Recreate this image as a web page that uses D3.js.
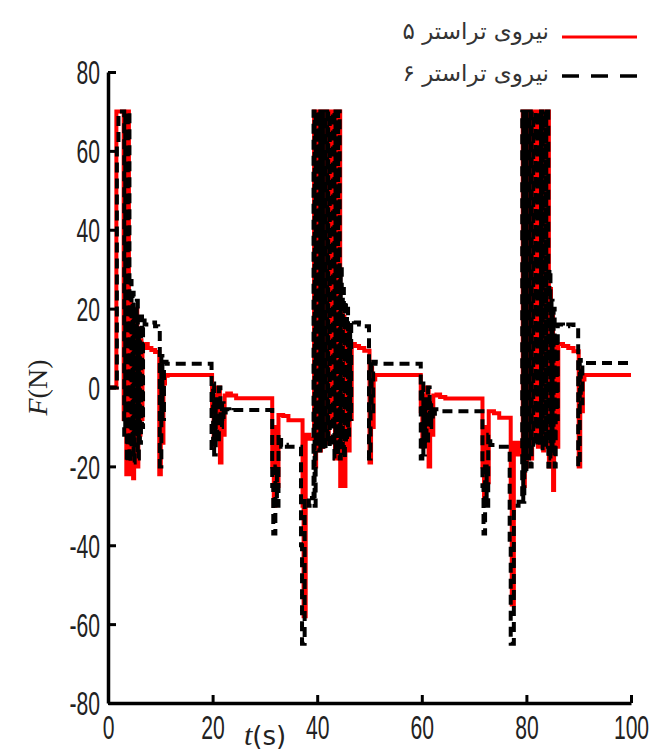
<!DOCTYPE html>
<html><head><meta charset="utf-8">
<script src="https://cdn.jsdelivr.net/npm/d3@7"></script>
<style>html,body{margin:0;padding:0;background:#fff;}svg{display:block;}</style>
</head><body>
<script>
// ---- data (step changes: [time s, force N], value holds until next time) ----
const xTicks = [0, 20, 40, 60, 80, 100];
const yTicks = [-80, -60, -40, -20, 0, 20, 40, 60, 80];
const seriesNames = ["نیروی تراستر ۵", "نیروی تراستر ۶"];

const thruster5 = [
  [0,0],[1.6,70],
  [3.0,-8],[3.2,70],[3.5,-22],[3.7,70],[4.0,-22],
  [4.2,22],[4.4,-18],[4.6,18],[4.8,-23],[5.0,14],[5.2,-15],[5.4,20],[5.6,-20],[5.8,10],[6.0,-12],[6.2,12],[6.4,-8],[6.6,10],
  [7.0,11],[7.6,10],[8.3,9.5],[9.0,9],[9.8,-22],[10.1,6],[10.3,-14],[10.6,1],[10.9,3],[11.4,3.2],
  [19.9,-6],[20.2,-14],[20.4,-2],[20.7,-10],[21.0,0],[21.4,-19],[21.7,-6],[22.0,-12],[22.3,-2],[22.8,-1.5],[23.5,-2],[24.5,-2.7],
  [31.4,-20],[31.7,-30],[32.0,-10],[32.3,-25],[32.6,-7],[33.5,-7.2],[34.5,-8.3],
  [37.2,-30],[37.4,-58],[37.8,-12],[38.5,-13],
  [39.4,70],[39.6,-20],[39.8,70],[40.0,-14],[40.2,70],[40.5,-16],[40.7,70],[41.0,-15],[41.2,70],[41.5,-14],[41.7,70],[42.0,-12],[42.2,70],[42.5,-8],
  [43.1,70],[43.4,-18],[43.6,70],[43.9,-18],[44.1,70],[44.4,-25],
  [44.6,20],[44.8,-15],[45.0,18],[45.2,-25],[45.4,14],[45.6,-10],[45.8,12],[46.0,-16],[46.2,8],[46.4,-8],[46.6,11],
  [47.2,10.5],[48.0,10],[49.0,9.3],[50.0,-19],[50.3,5],[50.5,-10],[50.8,2],[51.1,3.2],
  [59.8,-6],[60.1,-15],[60.3,-2],[60.6,-10],[60.9,0],[61.3,-20],[61.6,-5],[61.9,-12],[62.2,-2],[62.8,-1.8],[63.5,-2.4],[64.5,-2.8],
  [71.6,-20],[71.9,-29],[72.2,-10],[72.5,-24],[72.8,-6],[73.8,-6.5],[74.8,-7.7],
  [77.0,-30],[77.2,-55],[77.6,-14],[78.3,-17],[79.0,-14],
  [79.3,70],[79.5,-25],[79.7,70],[79.9,-20],[80.1,70],[80.4,-15],[80.6,70],[80.9,-18],[81.1,70],[81.4,-12],
  [81.9,70],[82.2,-15],[82.4,70],[82.7,-12],[82.9,70],[83.2,-16],[83.4,70],[83.7,-14],[83.9,70],[84.3,-20],
  [84.5,25],[84.7,-12],[84.9,18],[85.1,-26],[85.3,12],[85.5,-10],[85.7,10],[85.9,-15],[86.1,11],
  [87,10.5],[88,10],[89,9.2],[90.0,-20],[90.3,4],[90.5,-6],[90.8,2],[91.1,3.2],[100,3.2]
];

const thruster6 = [
  [0,0],[1.7,62],[2.0,70],
  [3.1,-12],[3.3,70],[3.6,-19],[3.8,70],[4.1,-19],
  [4.3,27],[4.5,-15],[4.7,24],[4.9,-19],[5.1,20],[5.3,-12],[5.5,22],[5.7,-18],[5.9,15],[6.1,-14],[6.3,18],[6.5,-10],[6.7,17],
  [7.0,16],[8.0,16.5],[9.0,15.5],[9.6,15],[9.9,-20],[10.2,8],[10.4,-8],[10.7,6.5],[11.2,6],
  [19.8,-16],[20.1,1],[20.3,-17],[20.6,-3],[20.9,-14],[21.2,0],[21.5,-10],[21.8,-4],[22.1,-8],[22.5,-5.5],[23.2,-6],[24,-5.7],
  [31.4,-25],[31.6,-37],[32.0,-20],[32.3,-30],[32.6,-12],[33.1,-15],[33.6,-14.5],[34.2,-15],
  [36.9,-40],[37.1,-65],[37.6,-28],[38.4,-30],[39.0,-28],
  [39.3,70],[39.5,-30],[39.7,70],[40.0,-15],[40.2,70],[40.4,-16],[40.6,70],[40.9,-15],[41.1,70],[41.4,-16],[41.6,70],[41.9,-14],[42.1,70],[42.4,-15],
  [43.0,70],[43.3,-18],[43.5,70],[43.8,-17],[44.0,70],[44.3,-18],
  [44.5,30],[44.7,-15],[44.9,25],[45.1,-18],[45.3,22],[45.5,-14],[45.7,20],[45.9,-12],[46.1,15],[46.3,-8],[46.5,17],
  [47.0,16.5],[48,16],[49,15.5],[49.9,-18],[50.2,7],[50.4,-6],[50.7,6.5],[51.2,6],
  [59.8,-18],[60.1,1],[60.3,-17],[60.6,-3],[60.9,-14],[61.2,0],[61.5,-10],[61.8,-4],[62.1,-8],[62.5,-5.5],[63.5,-6],
  [71.6,-25],[71.8,-37],[72.1,-20],[72.4,-30],[72.7,-12],[73.1,-14.6],[74,-15],
  [76.8,-40],[77.0,-65],[77.6,-30],[78.5,-29],
  [79.2,70],[79.4,-29],[79.6,70],[79.8,-22],[80.0,70],[80.3,-18],[80.5,70],[80.8,-20],[81.0,70],[81.3,-15],
  [81.8,70],[82.1,-15],[82.3,70],[82.6,-14],[82.8,70],[83.1,-16],[83.3,70],[83.6,-15],[83.8,70],[84.2,-20],
  [84.4,30],[84.6,-18],[84.8,22],[85.0,-15],[85.2,20],[85.4,-20],[85.6,12],[85.8,-8],[86.0,16],
  [87,15.5],[88,16],[89,15.2],[89.9,-20],[90.2,7],[90.4,-4],[90.7,6],[91.2,6.2],[100,6.2]
];

// ---- layout ----
const W = 657, H = 751;
const margin = {left: 108, right: 26, top: 72, bottom: 48};
const svg = d3.select("body").append("svg").attr("width", W).attr("height", H);

const x = d3.scaleLinear().domain([0, 100]).range([margin.left, W - margin.right]);
const y = d3.scaleLinear().domain([-80, 80]).range([H - margin.bottom, margin.top]);

const line = d3.line().x(d => x(d[0])).y(d => y(d[1])).curve(d3.curveStepAfter);

svg.append("path").datum(thruster5).attr("d", line)
  .attr("fill", "none").attr("stroke", "#ff0000").attr("stroke-width", 4);
svg.append("path").datum(thruster6).attr("d", line)
  .attr("fill", "none").attr("stroke", "#000").attr("stroke-width", 4)
  .attr("stroke-dasharray", "10,6");

// ---- axes ----
const sx = 0.64;
const tickFont = "'Liberation Sans', Arial, sans-serif";
const xAxis = svg.append("g").attr("transform", `translate(0,${y(-80)})`)
  .call(d3.axisBottom(x).tickValues(xTicks).tickFormat(d => String(d)).tickSizeInner(-8).tickSizeOuter(0));
const yAxis = svg.append("g").attr("transform", `translate(${x(0)},0)`)
  .call(d3.axisLeft(y).tickValues(yTicks).tickFormat(d => String(d)).tickSizeInner(-8).tickSizeOuter(0));
[xAxis, yAxis].forEach(g => {
  g.select(".domain").attr("stroke", "#000").attr("stroke-width", 3.5);
  g.selectAll(".tick line").attr("stroke", "#000").attr("stroke-width", 3);
  g.selectAll(".tick text").attr("fill", "#222").style("font-family", tickFont).style("font-size", "33px")
    .attr("transform", `scale(${sx},1)`);
});
xAxis.selectAll(".tick text").attr("x", 0).attr("y", 36).attr("dy", null);
yAxis.selectAll(".tick text").attr("x", -8 / sx).attr("dy", "0.36em");

// axis titles
const yl = svg.append("text").attr("transform", `translate(47,${y(0)}) rotate(-90)`)
  .attr("text-anchor", "middle").style("font-family", "'Liberation Serif', serif").style("font-size", "28px").attr("fill", "#222");
yl.append("tspan").style("font-style", "italic").text("F");
yl.append("tspan").text("(N)");

const xl = svg.append("text").attr("x", 265).attr("y", 745)
  .attr("text-anchor", "middle").attr("fill", "#222");
xl.append("tspan").style("font-family", "'Liberation Serif', serif").style("font-style", "italic").style("font-size", "30px").text("t");
xl.append("tspan").style("font-family", "'DejaVu Sans', sans-serif").style("font-size", "26px").text("(s)");

// ---- legend ----
const legend = svg.append("g");
const legY = [37, 76];
legend.append("line").attr("x1", 562).attr("x2", 637).attr("y1", legY[0]).attr("y2", legY[0])
  .attr("stroke", "#ff0000").attr("stroke-width", 3);
legend.append("line").attr("x1", 562).attr("x2", 637).attr("y1", legY[1]).attr("y2", legY[1])
  .attr("stroke", "#000").attr("stroke-width", 3.5).attr("stroke-dasharray", "17,12");
seriesNames.forEach((n, i) => {
  legend.append("text").attr("x", 549).attr("y", legY[i] + (i === 0 ? 2 : 5))
    .attr("text-anchor", "end").style("font-family", "'DejaVu Sans', sans-serif")
    .style("font-size", "23px").attr("fill", "#333").text(n);
});
</script>
</body></html>
